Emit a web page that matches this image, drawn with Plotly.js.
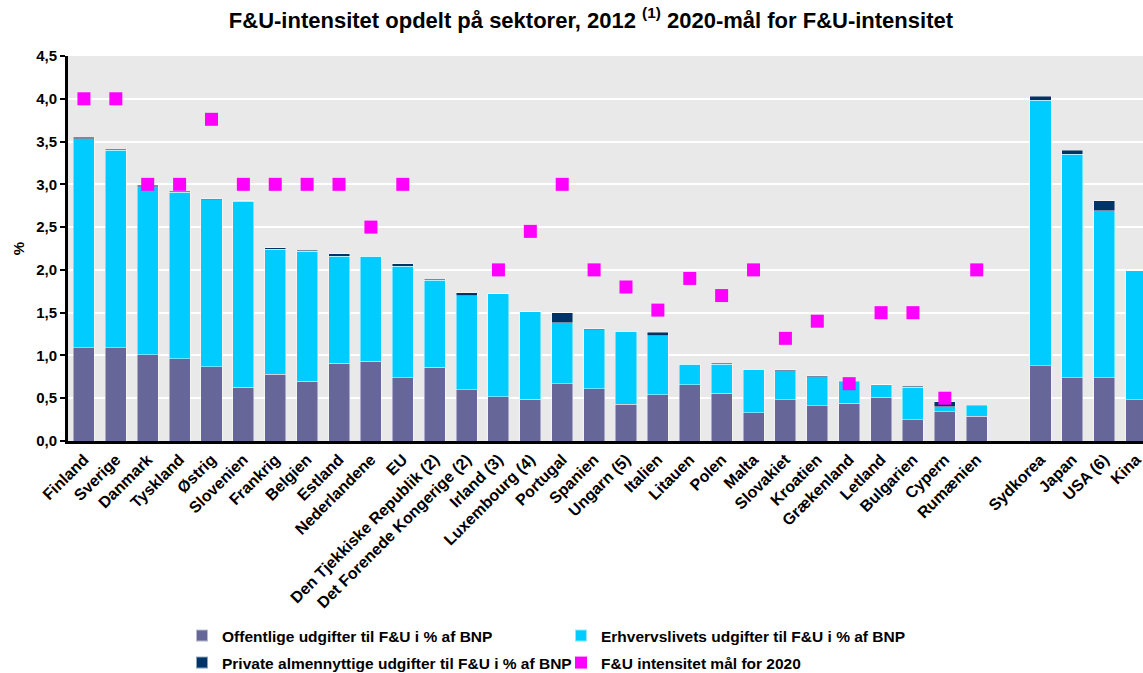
<!DOCTYPE html>
<html>
<head>
<meta charset="utf-8">
<script src="https://cdn.plot.ly/plotly-3.0.1.min.js"></script>
<style>
html,body{margin:0;padding:0;background:#fff;}
#chart{width:1143px;height:673px;}
</style>
</head>
<body>
<div id="chart"></div>
<script>
const categories = ["Finland","Sverige","Danmark","Tyskland","Østrig","Slovenien","Frankrig","Belgien","Estland","Nederlandene","EU","Den Tjekkiske Republik (2)","Det Forenede Kongerige (2)","Irland (3)","Luxembourg (4)","Portugal","Spanien","Ungarn (5)","Italien","Litauen","Polen","Malta","Slovakiet","Kroatien","Grækenland","Letland","Bulgarien","Cypern","Rumænien","Sydkorea","Japan","USA (6)","Kina"];
const positions = [0,1,2,3,4,5,6,7,8,9,10,11,12,13,14,15,16,17,18,19,20,21,22,23,24,25,26,27,28,30,31,32,33];
const offentlige = [1.09,1.09,1.01,0.96,0.87,0.63,0.78,0.70,0.91,0.93,0.74,0.86,0.60,0.52,0.49,0.67,0.61,0.43,0.54,0.66,0.56,0.33,0.48,0.41,0.44,0.51,0.25,0.34,0.29,0.88,0.74,0.74,0.48];
const erhverv = [2.44,2.31,1.96,1.95,1.95,2.17,1.46,1.52,1.25,1.23,1.30,1.02,1.10,1.20,1.02,0.71,0.69,0.85,0.69,0.24,0.34,0.51,0.34,0.34,0.25,0.15,0.38,0.06,0.12,3.10,2.61,1.95,1.51];
const privat = [0.02,0.01,0.02,0.01,0.01,0.01,0.02,0.01,0.03,0.00,0.03,0.01,0.03,0.00,0.00,0.12,0.01,0.00,0.04,0.00,0.01,0.00,0.01,0.01,0.01,0.00,0.01,0.06,0.01,0.05,0.05,0.12,0.00];
const maal2020 = [4.0,4.0,3.0,3.0,3.76,3.0,3.0,3.0,3.0,2.5,3.0,null,null,2.0,2.45,3.0,2.0,1.8,1.53,1.9,1.7,2.0,1.2,1.4,0.67,1.5,1.5,0.5,2.0,null,null,null,null];
const seriesNames = ["Offentlige udgifter til F&U i % af BNP","Erhvervslivets udgifter til F&U i % af BNP","Private almennyttige udgifter til F&U i % af BNP","F&U intensitet mål for 2020"];
const yTicks = [0,0.5,1,1.5,2,2.5,3,3.5,4,4.5];

const FONT = "Arial, 'Liberation Sans', sans-serif";
const edge = {color:"rgba(255,255,255,0.55)", width:0.8};

const traces = [
  {type:"bar", x:positions, y:offentlige, name:seriesNames[0], marker:{color:"#666699", line:edge}, legend:"legend"},
  {type:"bar", x:positions, y:erhverv, name:seriesNames[1], marker:{color:"#00ccff", line:edge}, legend:"legend"},
  {type:"bar", x:positions, y:privat, name:seriesNames[2], marker:{color:"#003366", line:edge}, legend:"legend2"},
  {type:"scatter", mode:"markers", x:positions, y:maal2020, name:seriesNames[3], marker:{symbol:"square", color:"#ff00ff", size:13}, legend:"legend2"}
];

function makeLegend(yPix){
  return {orientation:"h", font:{family:FONT, size:15.5, color:"#000", weight:"bold"}, bgcolor:"rgba(0,0,0,0)", entrywidth:334, entrywidthmode:"pixels", itemsizing:"constant", xref:"container", yref:"container", xanchor:"left", yanchor:"middle", traceorder:"normal", x:182/1143, y:1-yPix/673};
}

const layout = {
  width:1143, height:673,
  paper_bgcolor:"#ffffff", plot_bgcolor:"#e9e9e9",
  margin:{l:67.5, r:0, t:55.7, b:232},
  barmode:"stack", bargap:0.34,
  separators:",.",
  font:{family:FONT, color:"#000", size:14.5},
  title:{text:"<b>F&U-intensitet opdelt på sektorer, 2012 <sup>(1)</sup> 2020-mål for F&U-intensitet</b>", font:{family:FONT, size:22, color:"#000"}, xref:"container", x:0.517, xanchor:"center", yref:"container", y:1-20/673, yanchor:"middle"},
  xaxis:{range:[-0.5,33.215], tickvals:positions, ticktext:categories, tickangle:-45, ticklabeloverflow:"allow", showgrid:false, zeroline:false, showline:true, linecolor:"#000", linewidth:3, ticks:"", tickfont:{family:FONT, size:16, color:"#000", weight:"bold"}, fixedrange:true},
  yaxis:{range:[0,4.5], tickvals:yTicks, tickformat:".1f", showgrid:true, gridcolor:"#ffffff", gridwidth:2, zeroline:false, showline:true, linecolor:"#000", linewidth:3, ticks:"outside", ticklen:5, tickwidth:2, tickcolor:"#000", tickfont:{family:FONT, size:15, color:"#000", weight:"bold"}, title:{text:"<b>%</b>", font:{family:FONT, size:15, color:"#000"}, standoff:8}, fixedrange:true},
  showlegend:true,
  legend:makeLegend(636),
  legend2:makeLegend(663)
};

Plotly.newPlot("chart", traces, layout, {displayModeBar:false, staticPlot:true});
</script>
</body>
</html>
